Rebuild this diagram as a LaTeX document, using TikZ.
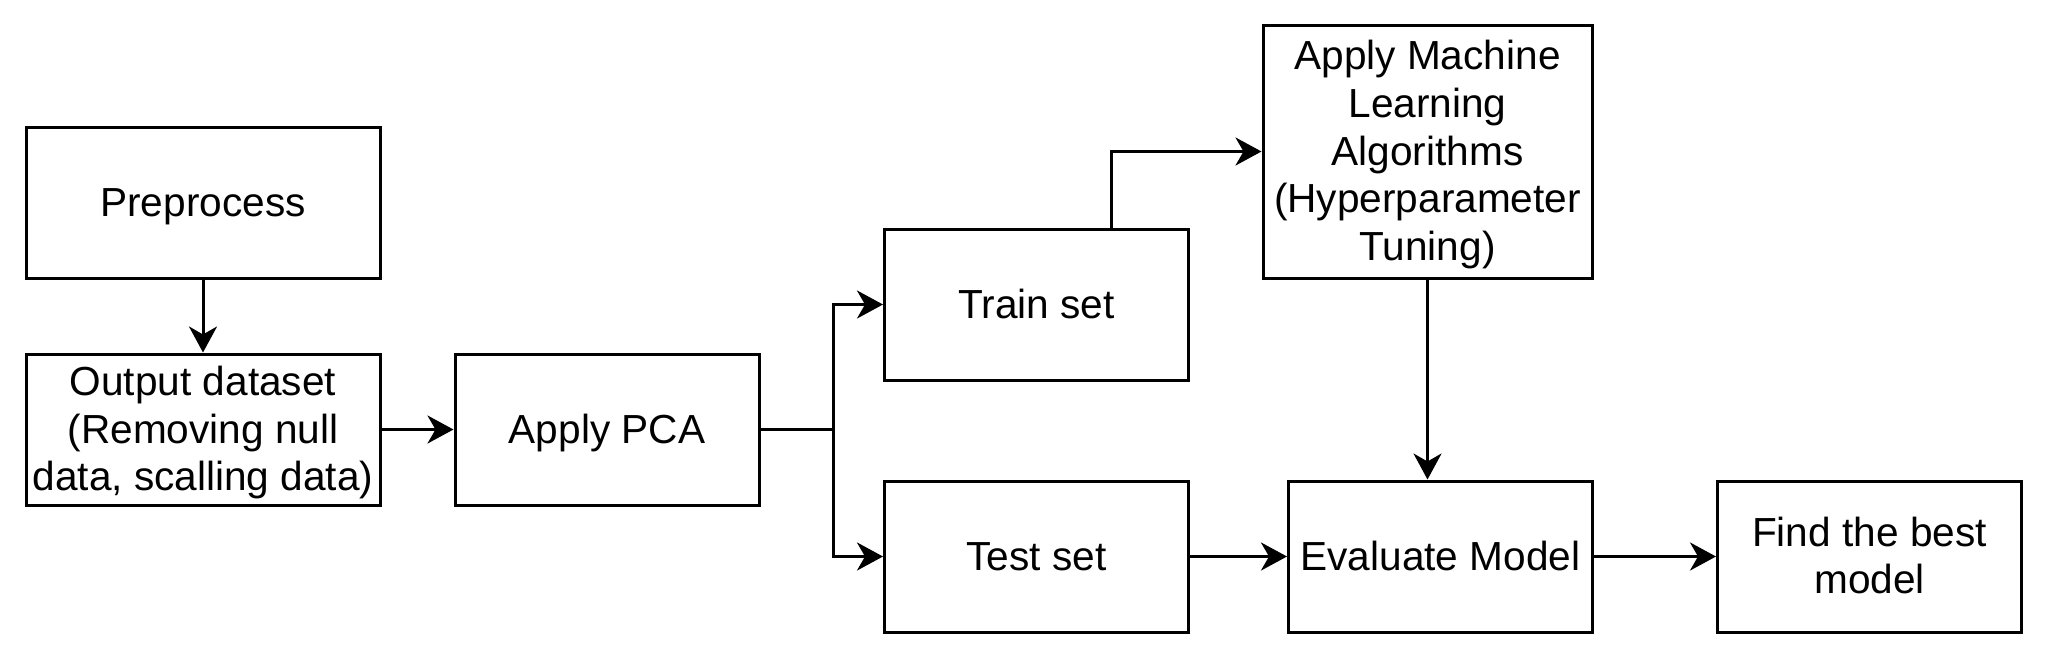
\documentclass[tikz,border=0pt]{standalone}
\usepackage{fontspec}
\setmainfont{Liberation Sans}
\usetikzlibrary{arrows.meta,calc}
\newcommand{\bxtxt}[1]{\raisebox{-2pt}[\height][\depth]{\begin{tabular}{@{}c@{}}#1\end{tabular}}}
\begin{document}
\begin{tikzpicture}[x=0.5pt,y=-0.5pt,
  box/.style={draw=black,line width=1.5pt,fill=white,inner sep=0pt,align=center,
    font=\fontsize{20.3pt}{23.9pt}\selectfont},
  arr/.style={line width=1.5pt,-{Stealth[length=13pt,width=14pt,inset=4pt]}},
  ln/.style={line width=1.5pt}]
\useasboundingbox[fill=white] (0,0) rectangle (2048,659);
\node[box,minimum width=177pt,minimum height=75.5pt] (pre) at (203,202.5) {\bxtxt{Preprocess}};
\node[box,minimum width=177pt,minimum height=75.5pt] (out) at (203,429.5) {\bxtxt{Output dataset\\(Removing null\\data, scalling data)}};
\node[box,minimum width=152pt,minimum height=75.5pt] (pca) at (607,429.5) {\bxtxt{Apply PCA}};
\node[box,minimum width=152pt,minimum height=75.5pt] (train) at (1036.5,304.5) {\bxtxt{Train set}};
\node[box,minimum width=152pt,minimum height=75.5pt] (test) at (1036.5,556.5) {\bxtxt{Test set}};
\node[box,minimum width=164.5pt,minimum height=126.5pt] (ml) at (1427.5,151.5) {\bxtxt{Apply Machine\\Learning\\Algorithms\\(Hyperparameter\\Tuning)}};
\node[box,minimum width=152pt,minimum height=75.5pt] (eval) at (1440.5,556.5) {\bxtxt{Evaluate Model}};
\node[box,minimum width=152pt,minimum height=75.5pt] (find) at (1869.5,556.5) {\bxtxt{Find the best\\model}};
\coordinate (split) at (833,429.5);
\draw[arr] (pre.south) -- (out.north);
\draw[arr] (out.east) -- (pca.west);
\draw[ln] (pca.east) -- (split);
\draw[arr] (split) |- (train.west);
\draw[arr] (split) |- (test.west);
\draw[arr] ([xshift=37.25pt]train.north) |- (ml.west);
\draw[arr] (ml.south) -- (ml.south |- eval.north);
\draw[arr] (test.east) -- (eval.west);
\draw[arr] (eval.east) -- (find.west);
\end{tikzpicture}
\end{document}
